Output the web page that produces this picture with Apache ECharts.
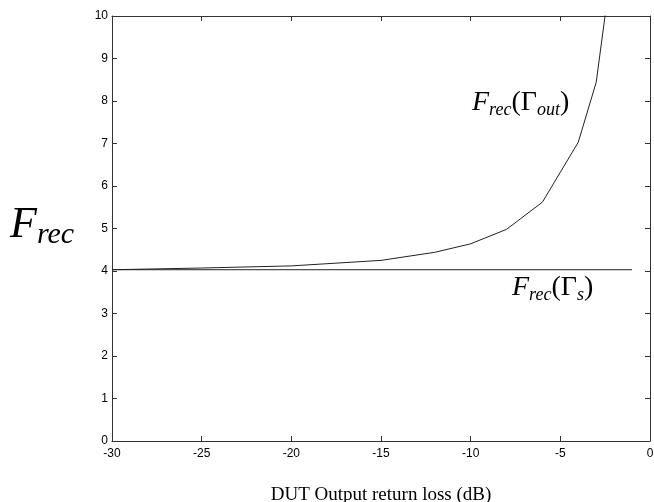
<!DOCTYPE html>
<html>
<head>
<meta charset="utf-8">
<script src="https://cdn.jsdelivr.net/npm/echarts@6/dist/echarts.min.js"></script>
<style>
  html, body { margin: 0; padding: 0; background: #fff; }
  #chart { width: 654px; height: 502px; }
</style>
</head>
<body>
<div id="chart"></div>
<script>
// receiver noise factor vs DUT output return loss
var lossDb = [-30, -25, -20, -15, -12, -10, -8, -6, -4, -3, -2];
var fRecOut = [4.03, 4.07, 4.12, 4.25, 4.44, 4.64, 4.98, 5.62, 7.03, 8.44, 11.6];
var lossDbS = [-30, -1];
var fRecS = [4.03, 4.03];
var xTicks = [-30, -25, -20, -15, -10, -5, 0];
var yTicks = [0, 1, 2, 3, 4, 5, 6, 7, 8, 9, 10];

(function() {
  var serif = "'Liberation Serif', 'DejaVu Serif', serif";
  var sans = "'Liberation Sans', Arial, sans-serif";
  var ink = '#000';
  var axisInk = '#333';

  var chart = echarts.init(document.getElementById('chart'), null, { renderer: 'canvas' });

  function pairs(xs, ys) {
    return xs.map(function(x, i) { return [x, ys[i]]; });
  }

  var xBase = {
    type: 'value',
    min: xTicks[0],
    max: xTicks[xTicks.length - 1],
    interval: xTicks[1] - xTicks[0],
    axisLine: { show: true, onZero: false, lineStyle: { color: axisInk, width: 1 } },
    axisTick: { show: true, inside: true, length: 5, lineStyle: { color: axisInk } },
    splitLine: { show: false }
  };
  var yBase = {
    type: 'value',
    min: yTicks[0],
    max: yTicks[yTicks.length - 1],
    interval: yTicks[1] - yTicks[0],
    axisLine: { show: true, onZero: false, lineStyle: { color: axisInk, width: 1 } },
    axisTick: { show: true, inside: true, length: 5, lineStyle: { color: axisInk } },
    splitLine: { show: false }
  };

  // F_rec(Γ) style labels: italic F, subscripts dropped a little
  var annRich = {
    b: { fontSize: 28, fontFamily: serif, lineHeight: 32, fill: ink },
    bi: { fontSize: 28, fontFamily: serif, fontStyle: 'italic', lineHeight: 32, fill: ink },
    si: { fontSize: 18, fontFamily: serif, fontStyle: 'italic', lineHeight: 15, verticalAlign: 'bottom', fill: ink }
  };

  chart.setOption({
    animation: false,
    backgroundColor: '#fff',
    // fixed box, do not let v6 shrink it to fit the axis name
    grid: { left: 112, right: 4, top: 16, bottom: 61, outerBoundsMode: 'none' },
    xAxis: [
      Object.assign({}, xBase, {
        position: 'bottom',
        axisLabel: { color: ink, fontFamily: sans, fontSize: 12, margin: 7 },
        name: 'DUT Output return loss (dB)',
        nameLocation: 'middle',
        nameGap: 45,
        nameTextStyle: { color: ink, fontFamily: serif, fontSize: 19 }
      }),
      Object.assign({}, xBase, { position: 'top', axisLabel: { show: false } })
    ],
    yAxis: [
      Object.assign({}, yBase, {
        position: 'left',
        axisLabel: { color: ink, fontFamily: sans, fontSize: 12, margin: 4 }
      }),
      Object.assign({}, yBase, { position: 'right', axisLabel: { show: false } })
    ],
    series: [
      {
        name: 'Frec(Γout)',
        type: 'line',
        data: pairs(lossDb, fRecOut),
        symbol: 'none',
        clip: true,
        lineStyle: { color: '#222', width: 1 }
      },
      {
        name: 'Frec(Γs)',
        type: 'line',
        data: pairs(lossDbS, fRecS),
        symbol: 'none',
        lineStyle: { color: '#222', width: 1 }
      }
    ],
    graphic: [
      {
        type: 'text', left: 10, top: 203,
        style: {
          text: '{F|F}{s|rec}',
          rich: {
            F: { fontSize: 44, fontFamily: serif, fontStyle: 'italic', lineHeight: 50, fill: ink },
            s: { fontSize: 30, fontFamily: serif, fontStyle: 'italic', lineHeight: 24, verticalAlign: 'bottom', fill: ink }
          }
        }
      },
      {
        type: 'text', left: 472, top: 89,
        style: { text: '{bi|F}{si|rec}{b|(Γ}{si|out}{b|)}', rich: annRich }
      },
      {
        type: 'text', left: 512, top: 274,
        style: { text: '{bi|F}{si|rec}{b|(Γ}{si|s}{b|)}', rich: annRich }
      }
    ]
  });
})();
</script>
</body>
</html>
